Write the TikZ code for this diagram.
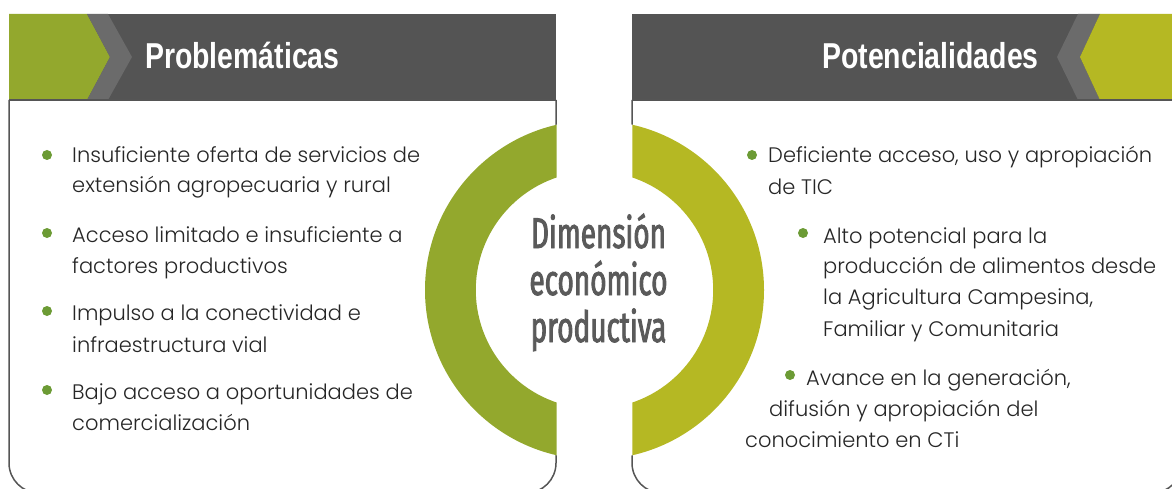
\documentclass[tikz,border=0pt]{standalone}
\usepackage{fontspec}
\setmainfont{Poppins Light}
\newfontfamily\titlefont[FakeStretch=0.79]{Liberation Sans Bold}
\newfontfamily\condfont[FakeStretch=0.65, FakeBold=2]{Fira Sans}
\definecolor{band}{HTML}{545454}
\definecolor{chevgray}{HTML}{6B6B6B}
\definecolor{olive}{HTML}{93A82D}
\definecolor{lime}{HTML}{B5B823}
\definecolor{frame}{HTML}{555555}
\definecolor{dot}{HTML}{6C9B35}
\definecolor{txt}{HTML}{262626}
\definecolor{ctext}{HTML}{5A5A5A}
\tikzset{
  line/.style={anchor=base west, inner sep=0pt, text=txt, font=\fontsize{21}{30}\selectfont},
  bul/.style={circle, fill=dot, inner sep=0pt, minimum size=10pt},
  title/.style={anchor=base west, inner sep=0pt, text=white, font=\titlefont\fontsize{36}{40}\selectfont},
  center/.style={anchor=base, inner sep=0pt, text=ctext, font=\condfont\fontsize{43}{48}\selectfont},
  panel/.style={draw=frame, line width=1.5pt, rounded corners=30pt}
}
\begin{document}
\begin{tikzpicture}[x=1pt,y=-1pt]
\useasboundingbox (0,0) rectangle (1172,489);
\clip (0,0) rectangle (1172,489);
% frames (rounded at the bottom only)
\draw[panel] (9,100) -- (9,493) -- (556,493) -- (556,100);
\draw[panel] (632,100) -- (632,493) -- (1182,493) -- (1182,100);
% left header
\fill[band] (9,14) rectangle (556,100);
\fill[olive] (9,14) -- (87,14) -- (110,57) -- (87,100) -- (9,100) -- cycle;
\fill[chevgray] (87,14) -- (108,14) -- (132,57) -- (108,100) -- (87,100) -- (110,57) -- cycle;
\draw[draw=frame, line width=1.2pt] (9,100) -- (556,100);
% right header
\fill[band] (632,14) rectangle (1172,100);
\fill[chevgray] (1078,14) -- (1100,14) -- (1080,57) -- (1100,100) -- (1078,100) -- (1057,57) -- cycle;
\fill[lime] (1100,14) -- (1172,14) -- (1172,100) -- (1100,100) -- (1080,57) -- cycle;
\draw[draw=frame, line width=1.2pt] (632,100) -- (1172,100);
\node[title] (t1) at (145,69) {Problemáticas};
\node[title] (t2) at (822,69) {Potencialidades};
% ring
\coordinate (c) at (594.5,290);
\fill[white] (c) circle (169.5);
\begin{scope}
\clip (0,0) rectangle (556.7,489);
\fill[olive, even odd rule] (c) circle (169.5) (c) circle (118.7);
\end{scope}
\begin{scope}
\clip (632.3,0) rectangle (1172,489);
\fill[lime, even odd rule] (c) circle (169.5) (c) circle (118.7);
\end{scope}
\node[center] (d1) at (598.5,248) {Dimensión};
\node[center] (d2) at (598.5,295) {económico};
\node[center] (d3) at (598.5,342) {productiva};
% left items
\node[bul] (b1) at (47,155) {};
\node[line] (l1a) at (72,163) {Insuficiente oferta de servicios de};
\node[line] (l1b) at (72,193) {extensión agropecuaria y rural};
\node[bul] (b2) at (47,233) {};
\node[line] (l2a) at (72,242) {Acceso limitado e insuficiente a};
\node[line] (l2b) at (72,273) {factores productivos};
\node[bul] (b3) at (47,311) {};
\node[line] (l3a) at (72,320) {Impulso a la conectividad e};
\node[line] (l3b) at (72,352) {infraestructura vial};
\node[bul] (b4) at (47,390) {};
\node[line] (l4a) at (72,399) {Bajo acceso a oportunidades de};
\node[line] (l4b) at (72,430) {comercialización};
% right items
\node[bul] (r1) at (752,155) {};
\node[line] (m1a) at (768,163) {Deficiente acceso, uso y apropiación};
\node[line] (m1b) at (768,194) {de TIC};
\node[bul] (r2) at (803,233) {};
\node[line] (m2a) at (823,243) {Alto potencial para la};
\node[line] (m2b) at (823,273) {producción de alimentos desde};
\node[line] (m2c) at (823,304) {la Agricultura Campesina,};
\node[line] (m2d) at (823,336) {Familiar y Comunitaria};
\node[bul] (r3) at (790,375) {};
\node[line] (m3a) at (806,385) {Avance en la generación,};
\node[line] (m3b) at (769,416) {difusión y apropiación del};
\node[line] (m3c) at (745,447) {conocimiento en CTi};
\end{tikzpicture}
\end{document}
